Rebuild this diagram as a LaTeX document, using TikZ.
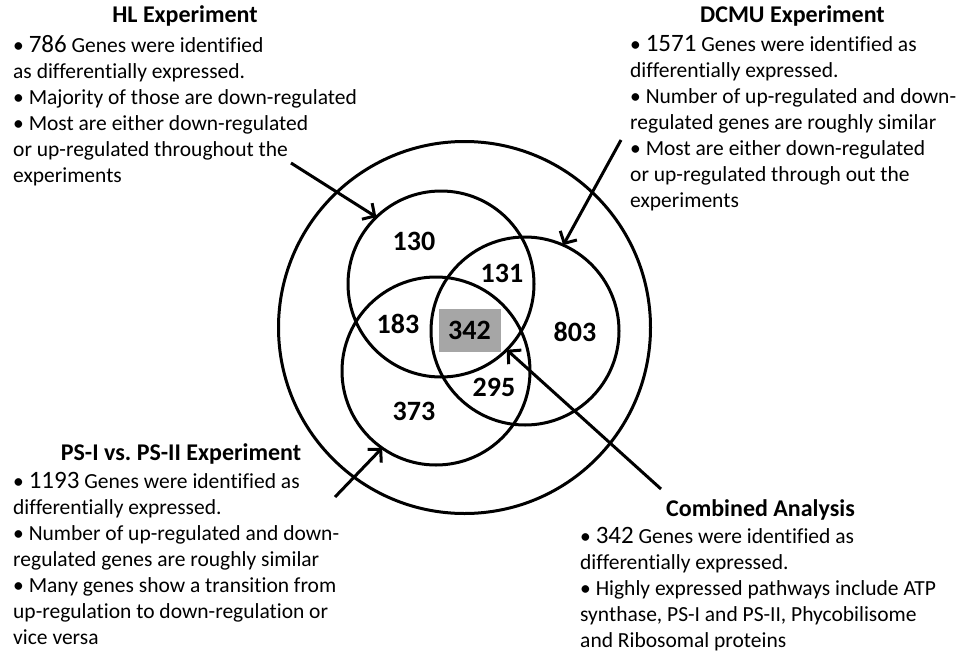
\documentclass[tikz,border=0pt]{standalone}
\usepackage{fontspec}
\setmainfont[Ligatures=NoCommon]{Carlito}
\usetikzlibrary{arrows.meta}
\begin{document}
\frenchspacing
\begin{tikzpicture}[x=1pt,y=-1pt,
  ring/.style={circle,draw=black,line width=3pt,inner sep=0pt,outer sep=0pt},
  count/.style={font=\fontsize{28}{32}\selectfont\bfseries,inner sep=0pt},
  heading/.style={font=\fontsize{24}{28}\selectfont\bfseries,anchor=base,inner sep=0pt},
  body/.style={font=\fontsize{21.5}{26}\selectfont,align=left,anchor=north west,inner sep=0pt},
  pointer/.style={line width=3pt,-{Straight Barb[length=9pt,width=19pt]}}]
\useasboundingbox (0,0) rectangle (956,656);
\newcommand{\bignum}[1]{{\fontsize{25}{26}\selectfont #1}}
% outer circle
\node[ring,minimum size=372pt] (outer) at (464.5,327.5) {};
% three sets
\node[ring,minimum size=186pt] (hl) at (441,284) {};
\node[ring,minimum size=188pt] (dcmu) at (525,331) {};
\node[ring,minimum size=188pt] (ps) at (436,371) {};
% gray centre box
\node[fill={rgb,255:red,166;green,166;blue,166},minimum width=62pt,minimum height=43pt,inner sep=0pt] (core) at (469.5,330) {};
% counts
\node[count] (n130) at (414,241) {130};
\node[count] (n131) at (502,273) {131};
\node[count] (n183) at (398,324) {183};
\node[count] (n342) at (469.5,330) {342};
\node[count] (n803) at (575,332) {803};
\node[count] (n295) at (494,387) {295};
\node[count] (n373) at (414,411) {373};
% headings
\node[heading] (hlt) at (185,22.7) {HL Experiment};
\node[heading] (dct) at (792.5,22.7) {DCMU Experiment};
\node[heading] (pst) at (181,460.7) {PS-I vs.\ PS-II Experiment};
\node[heading] (cat) at (760.5,516) {Combined Analysis};
% bodies
\node[body] (hlb) at (13,35.5) {• \bignum{786} Genes were identified\\as differentially expressed.\\• Majority of those are down-regulated\\• Most are either down-regulated\\or up-regulated throughout the\\experiments};
\node[body] (dcb) at (630,35.5) {• \bignum{1571} Genes were identified as\\differentially expressed.\\• Number of up-regulated and down-\\regulated genes are roughly similar\\• Most are either down-regulated\\or up-regulated through out the\\experiments};
\node[body] (psb) at (13,472.5) {• \bignum{1193} Genes were identified as\\differentially expressed.\\• Number of up-regulated and down-\\regulated genes are roughly similar\\• Many genes show a transition from\\up-regulation to down-regulation or\\vice versa};
\node[body] (cab) at (580,527.5) {• \bignum{342} Genes were identified as\\differentially expressed.\\• Highly expressed pathways include ATP\\synthase, PS-I and PS-II, Phycobilisome\\and Ribosomal proteins};
% arrow tails
\coordinate (hla) at (291,163);
\coordinate (dca) at (621,140);
\coordinate (psa) at (335,497);
\coordinate (caa) at (661,489);
\draw[pointer] (hla) -- (hl.134);
\draw[pointer] (dca) -- (dcmu.66);
\draw[pointer] (psa) -- (ps.235);
\draw[pointer] (caa) -- (hl.315);
\end{tikzpicture}
\end{document}
